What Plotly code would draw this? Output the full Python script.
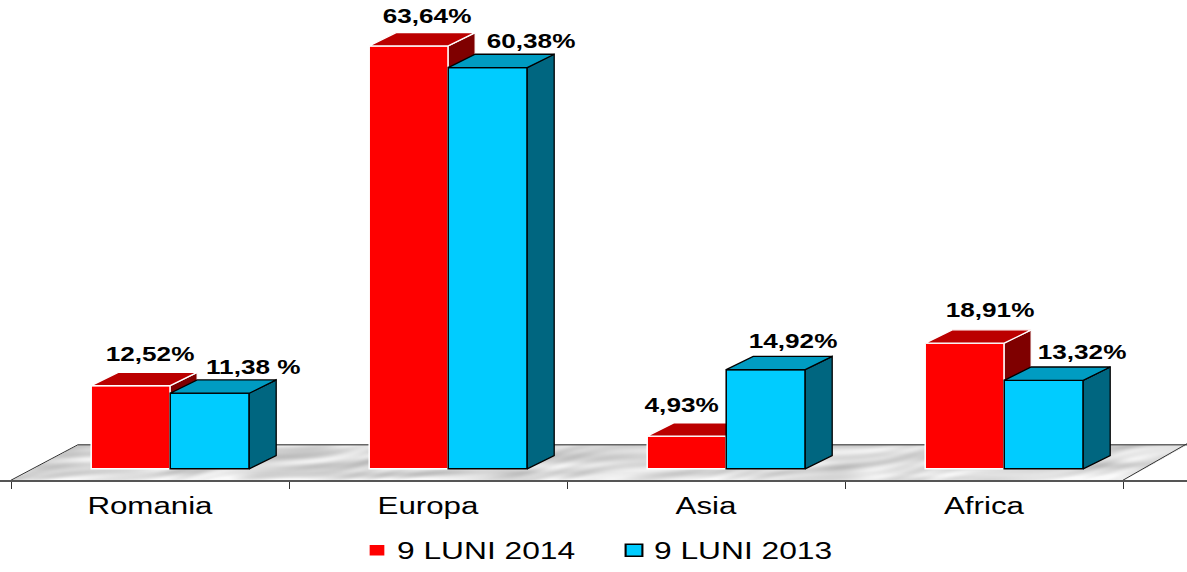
import base64, struct, zlib
import numpy as np
import plotly.graph_objects as go

categories = ["Romania", "Europa", "Asia", "Africa"]
series_2014 = [12.52, 63.64, 4.93, 18.91]
series_2013 = [11.38, 60.38, 14.92, 13.32]
labels_2014 = ["12,52%", "63,64%", "4,93%", "18,91%"]
labels_2013 = ["11,38 %", "60,38%", "14,92%", "13,32%"]
name_2014 = "9 LUNI 2014"
name_2013 = "9 LUNI 2013"

# layout constants (pixels)
W, H = 1187, 572
CAT_PX = 278.0
ZERO_Y = 475.5
Y_PX = 6.74
DX = 27 / CAT_PX
DY = 13.5 / Y_PX
BAR_W = 79 / CAT_PX
OFF_RED = -19.3 / CAT_PX
OFF_BLUE = 59.7 / CAT_PX
xr = [-150 / CAT_PX, (W - 150) / CAT_PX]
yr = [-(H - ZERO_Y) / Y_PX, ZERO_Y / Y_PX]
xpos = list(range(len(categories)))

lab_off_2014 = [(19, 32), (18, 30), (-5, 31), (25, 33)]
lab_off_2013 = [(43, 26), (43, 27), (27, 29), (38, 28)]


def floor_png():
    w, h = 1176, 36
    yy, xx = np.mgrid[0:h, 0:w].astype(float)
    v = (np.sin(xx / 37 + 3 * np.sin(yy / 6 + xx / 90))
         + 0.6 * np.sin(xx / 17 + yy / 4 + 2 * np.sin(xx / 53 - yy / 8))
         + 0.4 * np.sin(xx / 8 + yy / 1.5 + 3 * np.sin(xx / 29)))
    g = 216 + 14 * v + 20 * np.clip((yy - 28) / 7, 0, 1)
    g = np.clip(g, 170, 250).astype(np.uint8)
    left = 67 * (1 - (yy + 0.5) / h)
    right = w - 64 * (yy + 0.5) / h
    a = (((xx >= left) & (xx <= right)) * 255).astype(np.uint8)
    rgba = np.dstack([g, g, g, a])
    raw = b"".join(b"\0" + rgba[r].tobytes() for r in range(h))

    def chunk(t, d):
        return struct.pack(">I", len(d)) + t + d + struct.pack(">I", zlib.crc32(t + d) & 0xffffffff)

    png = b"\x89PNG\r\n\x1a\n" + chunk(b"IHDR", struct.pack(">IIBBBBB", w, h, 8, 6, 0, 0, 0)) + chunk(b"IDAT", zlib.compress(raw)) + chunk(b"IEND", b"")
    return "data:image/png;base64," + base64.b64encode(png).decode()


def faces(fig, offs, values, top_col, side_col, edge, ax):
    for c, v in zip(xpos, values):
        x0 = c + offs - BAR_W / 2
        x1 = c + offs + BAR_W / 2
        fig.add_trace(go.Scatter(x=[x1, x1 + DX, x1 + DX, x1, x1], y=[0, DY, v + DY, v, 0], mode="lines", fill="toself",
                                 fillcolor=side_col, line=dict(color=edge, width=1.3), hoverinfo="skip", showlegend=False, xaxis=ax[0], yaxis=ax[1]))
        fig.add_trace(go.Scatter(x=[x0, x0 + DX, x1 + DX, x1, x0], y=[v, v + DY, v + DY, v, v], mode="lines", fill="toself",
                                 fillcolor=top_col, line=dict(color=edge, width=1.3), hoverinfo="skip", showlegend=False, xaxis=ax[0], yaxis=ax[1]))


fig = go.Figure()
faces(fig, OFF_RED, series_2014, "#BB0000", "#7F0000", "#FFFFFF", ("x", "y"))
fig.add_trace(go.Bar(x=[c + OFF_RED for c in xpos], y=series_2014, width=BAR_W, name=name_2014,
                     marker=dict(color="#FF0000", line=dict(color="#FFFFFF", width=1.5)), xaxis="x", yaxis="y"))
faces(fig, OFF_BLUE, series_2013, "#009CC2", "#006680", "#000000", ("x2", "y2"))
fig.add_trace(go.Bar(x=[c + OFF_BLUE for c in xpos], y=series_2013, width=BAR_W, name=name_2013,
                     marker=dict(color="#00CCFF", line=dict(color="#000000", width=1.5)), xaxis="x2", yaxis="y2"))

LAB_FONT = dict(family="Liberation Sans", size=19.5, color="#000000", weight="bold")
anns = []
for off, vals, labs, lo in [(OFF_RED, series_2014, labels_2014, lab_off_2014), (OFF_BLUE, series_2013, labels_2013, lab_off_2013)]:
    for c, v, t, (sx, sy) in zip(xpos, vals, labs, lo):
        anns.append(dict(x=c + off, y=v, xref="x", yref="y", text=t, showarrow=False, xshift=sx, yshift=sy, font=LAB_FONT,
                         xanchor="center", yanchor="middle"))

ybot = 1 - 451 / H
fig.update_layout(
    width=W, height=H, margin=dict(l=0, r=0, t=0, b=0), paper_bgcolor="#FFFFFF", plot_bgcolor="rgba(0,0,0,0)",
    barmode="overlay", bargap=0, annotations=anns,
    font=dict(family="Liberation Sans", color="#000000"),
    xaxis=dict(range=xr, tickmode="array", tickvals=xpos, ticktext=categories, anchor="free", position=(H - 487) / H,
               showgrid=False, zeroline=False, showline=True, linecolor="#555555", linewidth=1.5, ticks="", ticklabelstandoff=5,
               tickfont=dict(size=23, family="Liberation Sans"),
               minor=dict(tickmode="array", tickvals=[c - 0.5 for c in xpos] + [xpos[-1] + 0.5], ticks="outside", ticklen=7, tickcolor="#333333", tickwidth=1, showgrid=False)),
    yaxis=dict(range=yr, visible=False),
    xaxis2=dict(range=xr, overlaying="x", visible=False),
    yaxis2=dict(range=yr, overlaying="y", visible=False),
    legend=dict(orientation="h", x=357 / W, xanchor="left", y=-0.014, yanchor="bottom", font=dict(size=23, family="Liberation Sans"),
                bgcolor="rgba(0,0,0,0)", traceorder="normal", entrywidth=212, entrywidthmode="pixels", itemwidth=30),
    images=[dict(source=floor_png(), xref="paper", yref="paper", x=11 / W, y=ybot, sizex=1176 / W, sizey=36 / H,
                 sizing="stretch", xanchor="left", yanchor="top", layer="below")],
    shapes=[
        dict(type="line", xref="paper", yref="paper", x0=78 / W, x1=1, y0=ybot, y1=ybot, line=dict(color="#666666", width=1.5), layer="below"),
        dict(type="line", xref="paper", yref="paper", x0=11 / W, x1=78 / W, y0=1 - 487 / H, y1=ybot, line=dict(color="#333333", width=1), layer="below"),
        dict(type="line", xref="paper", yref="paper", x0=1123 / W, x1=1, y0=1 - 487 / H, y1=ybot + 1 / H, line=dict(color="#333333", width=1), layer="below"),
    ],
)

# The reference text is horizontally stretched: widen each real text element in place.
POST = """
document.body.style.margin='0';
function widen(sel, s, anchorLeft){
  document.querySelectorAll(sel).forEach(function(t){
    if(t.getAttribute('data-wide')) return;
    var b=t.getBBox(); if(!b.width) return;
    var cx=anchorLeft? b.x : b.x+b.width/2;
    var old=t.getAttribute('transform')||'';
    t.setAttribute('transform', old+' translate('+cx+',0) scale('+s+',1) translate('+(-cx)+',0)');
    t.setAttribute('data-wide','1');
  });
}
function run(){
  widen('.xtick text',1.36,false);
  widen('.annotation-text',1.34,false);
  widen('.legendtext',1.38,true);
  widen('.legendpoints',1.4,false);
}
run(); var n=0; var iv=setInterval(function(){run(); if(++n>20) clearInterval(iv);},50);
"""
fig.write_html("out.html", post_script=POST, config={"displayModeBar": False, "staticPlot": True})
